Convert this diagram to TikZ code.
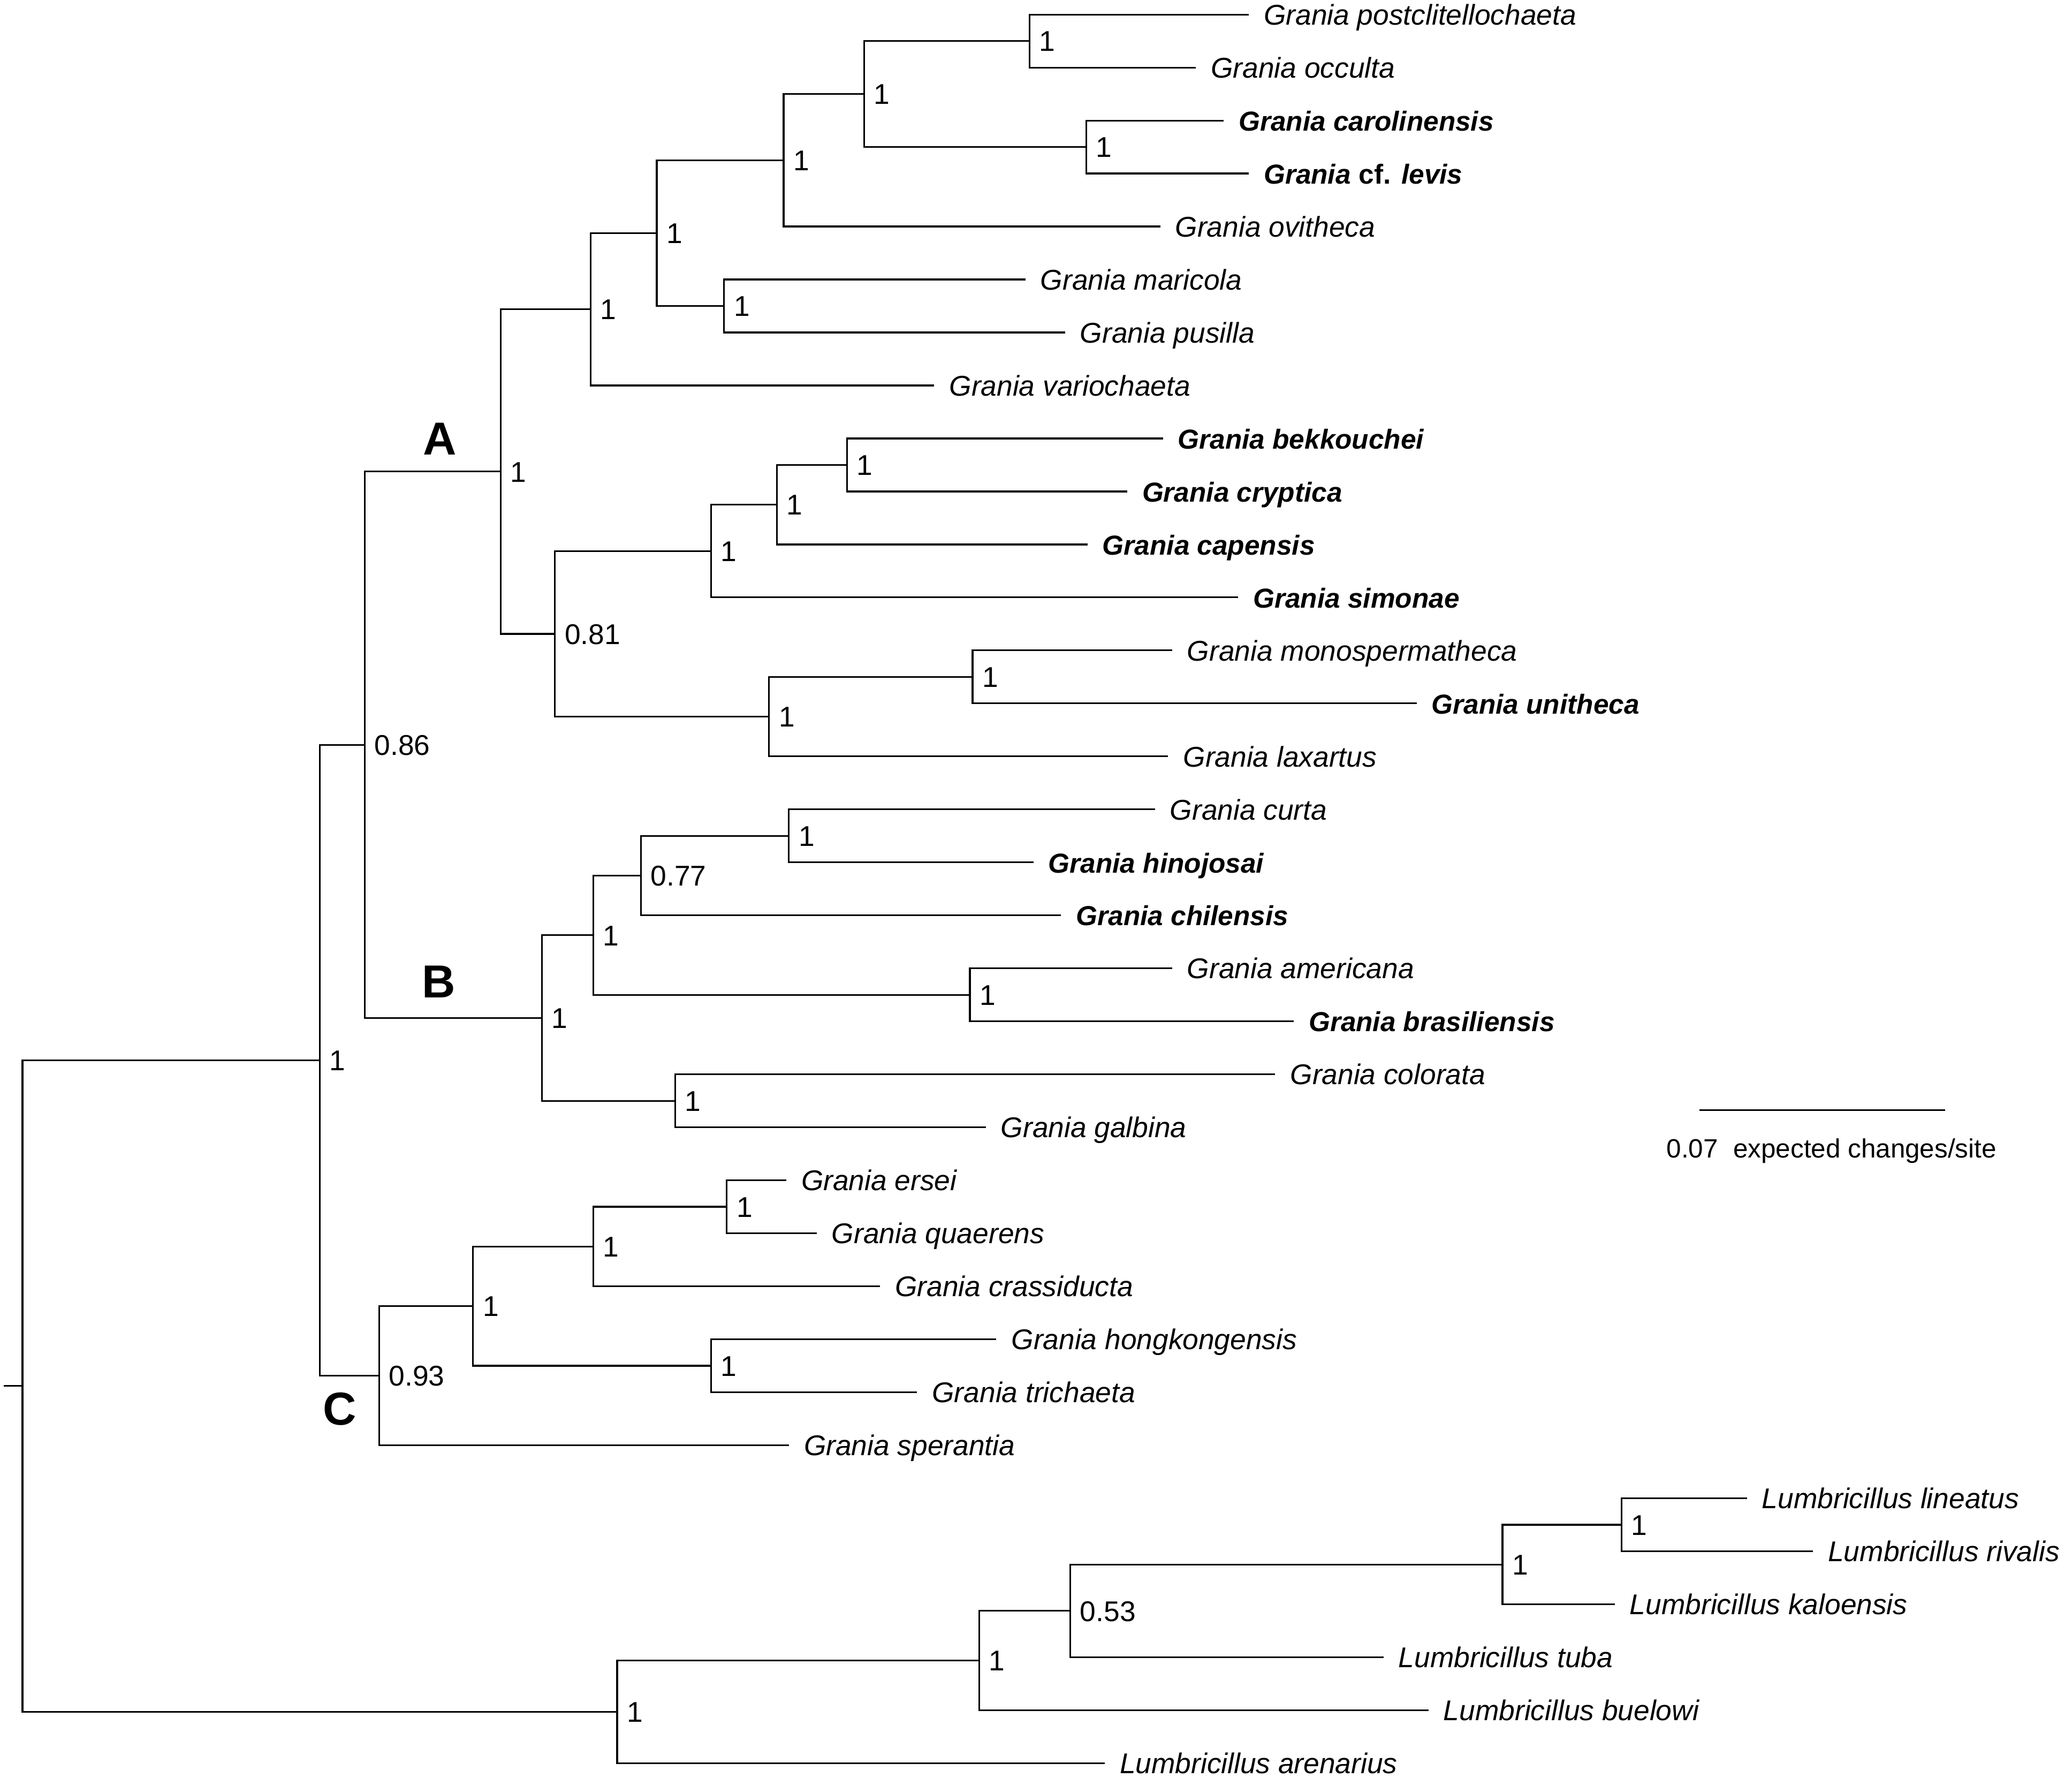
\documentclass[tikz,border=0pt]{standalone}
\usepackage{fontspec}
\setmainfont{Liberation Sans}
\usepackage{tikz}
\usetikzlibrary{calc, positioning}

\newcommand{\taxon}[1]{\textit{#1}}
\newcommand{\taxonb}[1]{{\fontsize{10.4}{13}\selectfont\bfseries\itshape #1}}
\newcommand{\cfb}{{\fontsize{10.4}{13}\selectfont\bfseries cf.}}
% elbow from an inner node to its two children, plus the support value
\newcommand{\joinclade}[5]{%
	\coordinate (tmp) at ($(#3)!0.5!(#4)$);
	\coordinate (#1) at (#2,0 |- tmp);
	\draw[treeline] (#3) -| (#1) |- (#4);
	\node[support] (s#1) at (#1) {#5};
}

\tikzset{
	treeline/.style={line width=0.65pt},
	support/.style={anchor=base west, inner sep=0pt, xshift=3.5pt, yshift=-3.9pt,
		font=\fontsize{10.8}{13}\selectfont},
	taxonlabel/.style={anchor=base west, inner sep=0pt, xshift=5.5pt, yshift=-3.9pt,
		font=\fontsize{10.8}{13}\selectfont},
	cladeletter/.style={anchor=base, inner sep=0pt, font=\bfseries\fontsize{17.5}{20}\selectfont}
}

\begin{document}
\begin{tikzpicture}[x=0.5pt, y=-0.5pt]
	\useasboundingbox (0,0) rectangle (1568,1345);
	
	% tips
	\foreach \nm/\xe/\txt [count=\i] in {
		post/945/{\taxon{Grania postclitellochaeta}},
		occu/905/{\taxon{Grania occulta}},
		caro/926/{\taxonb{Grania carolinensis}},
		levi/945/{\taxonb{Grania} \cfb{} \taxonb{levis}},
		ovit/878/{\taxon{Grania ovitheca}},
		mari/776/{\taxon{Grania maricola}},
		pusi/806/{\taxon{Grania pusilla}},
		vari/707/{\taxon{Grania variochaeta}},
		bekk/880/{\taxonb{Grania bekkouchei}},
		cryp/853/{\taxonb{Grania cryptica}},
		cape/823/{\taxonb{Grania capensis}},
		simo/937/{\taxonb{Grania simonae}},
		mono/887/{\taxon{Grania monospermatheca}},
		unit/1072/{\taxonb{Grania unitheca}},
		laxa/884/{\taxon{Grania laxartus}},
		curt/874/{\taxon{Grania curta}},
		hino/782/{\taxonb{Grania hinojosai}},
		chil/803/{\taxonb{Grania chilensis}},
		amer/887/{\taxon{Grania americana}},
		bras/979/{\taxonb{Grania brasiliensis}},
		colo/965/{\taxon{Grania colorata}},
		galb/746/{\taxon{Grania galbina}},
		erse/595/{\taxon{Grania ersei}},
		quae/618/{\taxon{Grania quaerens}},
		cras/666/{\taxon{Grania crassiducta}},
		hong/754/{\taxon{Grania hongkongensis}},
		tric/694/{\taxon{Grania trichaeta}},
		sper/597/{\taxon{Grania sperantia}},
		lin/1322/{\taxon{Lumbricillus lineatus}},
		riva/1372/{\taxon{Lumbricillus rivalis}},
		kalo/1222/{\taxon{Lumbricillus kaloensis}},
		tuba/1047/{\taxon{Lumbricillus tuba}},
		buel/1081/{\taxon{Lumbricillus buelowi}},
		aren/836/{\taxon{Lumbricillus arenarius}}}{
		\coordinate (\nm) at (\xe,{11+40.09*(\i-1)});
		\node[taxonlabel] (t\nm) at (\nm) {\txt};
	}
	
	% clade A
	\joinclade{n1}{779}{post}{occu}{1}
	\joinclade{n2}{822}{caro}{levi}{1}
	\joinclade{n3}{654}{n1}{n2}{1}
	\joinclade{n4}{593}{n3}{ovit}{1}
	\joinclade{n5}{548}{mari}{pusi}{1}
	\joinclade{n6}{497}{n4}{n5}{1}
	\joinclade{n7}{447}{n6}{vari}{1}
	\joinclade{n8}{641}{bekk}{cryp}{1}
	\joinclade{n9}{588}{n8}{cape}{1}
	\joinclade{n10}{538}{n9}{simo}{1}
	\joinclade{n11}{736}{mono}{unit}{1}
	\joinclade{n12}{582}{n11}{laxa}{1}
	\joinclade{n13}{420}{n10}{n12}{0.81}
	\joinclade{cA}{379}{n7}{n13}{1}
	% clade B
	\joinclade{n14}{597}{curt}{hino}{1}
	\joinclade{n15}{485}{n14}{chil}{0.77}
	\joinclade{n16}{734}{amer}{bras}{1}
	\joinclade{n17}{449}{n15}{n16}{1}
	\joinclade{n18}{511}{colo}{galb}{1}
	\joinclade{cB}{410}{n17}{n18}{1}
	\joinclade{nAB}{276}{cA}{cB}{0.86}
	% clade C
	\joinclade{n19}{550}{erse}{quae}{1}
	\joinclade{n20}{449}{n19}{cras}{1}
	\joinclade{n21}{538}{hong}{tric}{1}
	\joinclade{n22}{358}{n20}{n21}{1}
	\joinclade{cC}{287}{n22}{sper}{0.93}
	\joinclade{nABC}{242}{nAB}{cC}{1}
	% Lumbricillus
	\joinclade{n23}{1227}{lin}{riva}{1}
	\joinclade{n24}{1137}{n23}{kalo}{1}
	\joinclade{n25}{810}{n24}{tuba}{0.53}
	\joinclade{n26}{741}{n25}{buel}{1}
	\joinclade{nL}{467}{n26}{aren}{1}
	
	% root
	\joinclade{root}{17}{nABC}{nL}{}
	\coordinate (stub) at (3,0 |- root);
	\draw[treeline] (stub) -- (root);
	
	\node[cladeletter] (labA) at (333,344) {A};
	\node[cladeletter] (labB) at (332,755) {B};
	\node[cladeletter] (labC) at (257,1078) {C};
	
	% scale bar
	\coordinate (sbl) at (1286,840);
	\coordinate (sbr) at (1472,840);
	\draw[treeline] (sbl) -- (sbr);
	\node[anchor=base, inner sep=0pt, font=\fontsize{10}{12}\selectfont] (sbtxt) at (1386,876) {0.07\hspace{0.3em} expected changes/site};
\end{tikzpicture}
\end{document}
